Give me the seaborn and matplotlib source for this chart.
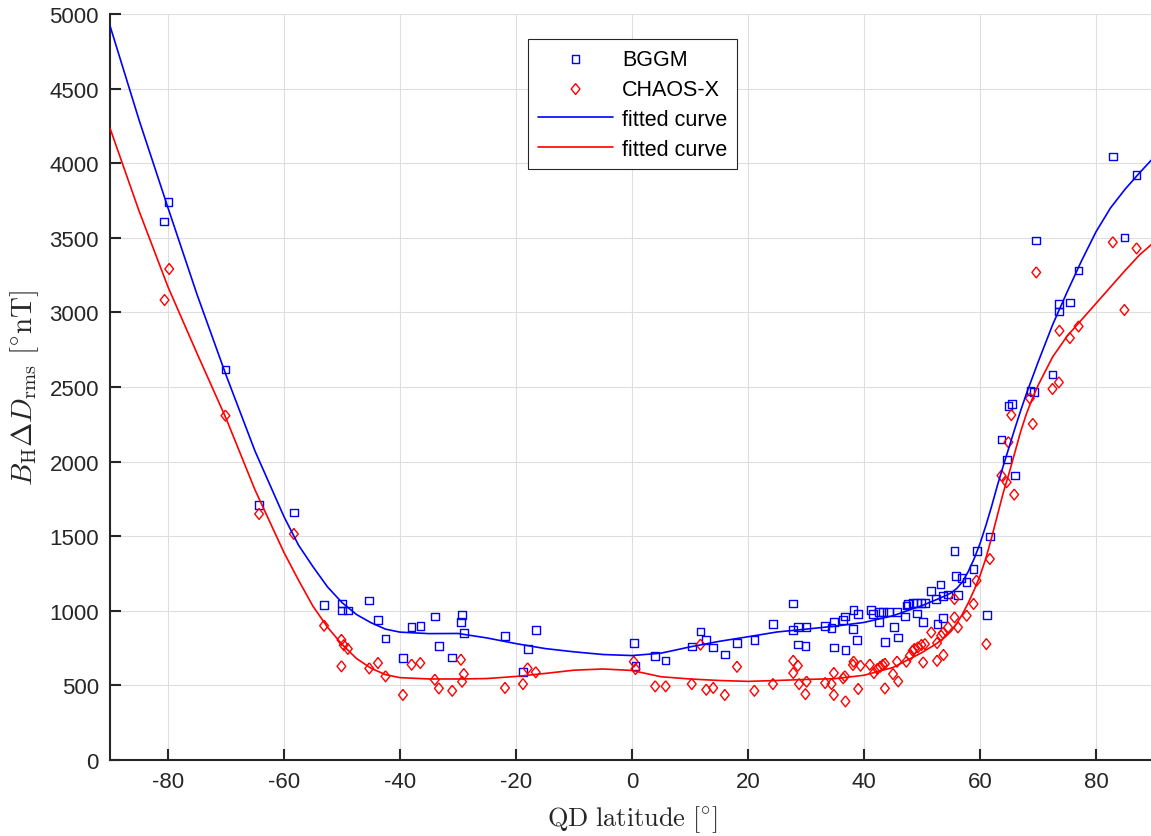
import matplotlib
matplotlib.use("Agg")
import matplotlib.pyplot as plt
import pandas as pd
import seaborn as sns

# Scattered station values, BGGM model
bggm_lat = [-80.7, -79.9, -70.1, -64.3, -58.3, -53.1, -50.0, -50.0, -49.0, -45.3,
            -43.8, -42.5, -39.5, -38.0, -36.5, -34.0, -33.3, -31.0, -29.5, -29.3,
            -29.0, -21.9, -18.8, -17.9, -16.6, 0.3, 0.6, 4.0, 5.8, 10.3,
            11.8, 12.8, 14.0, 16.0, 18.1, 21.1, 24.3, 27.8, 27.8, 28.6,
            28.6, 29.9, 30.1, 33.3, 34.4, 34.8, 34.8, 36.4, 36.7, 36.8,
            38.1, 38.2, 38.8, 39.0, 41.2, 41.6, 42.6, 42.6, 43.3, 43.6,
            44.3, 45.2, 45.7, 45.9, 47.1, 47.3, 47.6, 48.4, 49.1, 49.1,
            49.8, 50.5, 50.2, 51.6, 52.4, 52.7, 53.2, 53.6, 53.6, 54.5,
            55.6, 55.9, 56.2, 56.8, 57.7, 58.9, 59.5, 61.2, 61.7, 63.7,
            64.7, 64.9, 65.5, 66.0, 68.7, 69.3, 69.7, 72.5, 73.6, 73.6,
            75.5, 77.0, 82.9, 84.9, 87.0]
bggm_val = [3610, 3738, 2616, 1709, 1660, 1039, 1050, 1001, 1001, 1068,
            940, 815, 682, 891, 900, 963, 764, 688, 923, 972,
            853, 833, 590, 744, 871, 786, 632, 697, 668, 762,
            862, 806, 755, 706, 784, 806, 912, 1050, 873, 893,
            775, 764, 893, 900, 885, 923, 755, 938, 963, 737,
            878, 1007, 804, 979, 1007, 979, 990, 923, 990, 789,
            990, 893, 990, 822, 961, 1035, 1046, 1052, 1052, 983,
            1052, 1052, 923, 1134, 1079, 911, 1175, 950, 1101, 1108,
            1399, 1235, 1106, 1218, 1195, 1280, 1399, 972, 1497, 2147,
            2013, 2374, 2384, 1906, 2475, 2468, 3483, 2585, 3056, 3005,
            3065, 3280, 4046, 3503, 3921]

# Scattered station values, CHAOS-X model
chaos_lat = [-80.6, -79.8, -70.1, -64.3, -58.3, -53.1, -50.1, -49.7, -50.1, -49.0,
             -45.3, -43.8, -42.5, -39.5, -38.0, -36.5, -34.0, -33.3, -31.0, -29.5,
             -29.0, -29.3, -21.9, -18.8, -18.0, -16.6, 0.3, 0.6, 4.0, 5.8,
             10.3, 11.8, 12.8, 14.0, 16.0, 18.1, 21.1, 24.3, 27.8, 27.8,
             28.6, 28.8, 29.9, 30.1, 33.3, 34.4, 34.8, 34.8, 36.4, 36.7,
             36.8, 38.1, 38.2, 39.0, 39.4, 41.0, 41.7, 42.3, 42.8, 43.2,
             43.6, 43.6, 45.0, 45.9, 45.7, 47.3, 47.9, 48.4, 48.7, 49.3,
             49.9, 50.5, 50.2, 52.6, 53.7, 51.6, 52.6, 53.3, 53.6, 54.5,
             55.6, 56.2, 55.6, 57.7, 58.9, 59.4, 61.1, 61.7, 63.7, 64.6,
             65.9, 64.9, 65.4, 68.6, 69.1, 69.7, 72.5, 73.6, 73.7, 75.5,
             77.0, 82.9, 84.9, 87.0]
chaos_val = [3083, 3291, 2308, 1649, 1515, 900, 805, 770, 628, 745,
             614, 650, 561, 436, 639, 650, 538, 480, 464, 672,
             576, 525, 483, 509, 614, 588, 659, 610, 494, 494,
             509, 773, 471, 483, 436, 625, 464, 509, 665, 583,
             632, 509, 442, 525, 516, 509, 583, 436, 548, 561,
             393, 637, 659, 476, 632, 639, 583, 610, 625, 637,
             645, 480, 576, 527, 659, 659, 699, 733, 744, 755,
             771, 777, 654, 665, 704, 855, 784, 833, 851, 889,
             956, 889, 1079, 967, 1046, 1202, 777, 1347, 1906, 1862,
             1779, 2130, 2312, 2424, 2252, 3268, 2487, 2531, 2877, 2828,
             2906, 3470, 3016, 3429]

# Fitted curves sampled along latitude
fit_lat = [-90, -85, -80, -75, -70, -65, -60,
           -57.5, -55, -52.5, -50, -47.5, -45, -42.5, -40,
           -35, -30, -25, -20, -15, -10, -5, 0, 5, 10, 15, 20, 25, 30, 35, 40, 45, 50,
           52.5, 54,
           55, 56, 57, 58, 59, 60, 61, 62, 63, 64, 65, 66, 67, 68, 69, 70,
           72.5, 75, 77.5, 80, 82.5, 85, 87.5, 90]
bggm_fit = [4920, 4290, 3700, 3120, 2580, 2070, 1630,
            1440, 1295, 1160, 1055, 975, 920, 877, 857,
            847, 848, 818, 780, 747, 725, 707, 700, 716, 758, 795, 826, 858, 877, 897, 922, 967, 1035,
            1075, 1100,
            1120, 1150, 1195, 1265, 1350, 1450, 1570, 1700, 1840, 1970, 2095, 2220, 2340, 2455, 2560, 2665,
            2915, 3135, 3345, 3540, 3700, 3825, 3935, 4040]
chaos_fit = [4234, 3680, 3170, 2725, 2290, 1810, 1390,
             1205, 1030, 890, 775, 680, 615, 572, 552,
             543, 543, 546, 560, 580, 602, 610, 600, 558, 543, 533, 527, 533, 540, 545, 568, 620, 720,
             780, 825,
             862, 915, 980, 1055, 1140, 1235, 1350, 1490, 1640, 1790, 1920, 2060, 2200, 2320, 2420, 2510,
             2700, 2840, 2950, 3060, 3170, 3280, 3385, 3470]

x_ticks = [-80, -60, -40, -20, 0, 20, 40, 60, 80]
y_ticks = [0, 500, 1000, 1500, 2000, 2500, 3000, 3500, 4000, 4500, 5000]

bggm = pd.DataFrame({"lat": bggm_lat, "val": bggm_val})
chaos = pd.DataFrame({"lat": chaos_lat, "val": chaos_val})
fits = pd.DataFrame({"lat": fit_lat, "bggm": bggm_fit, "chaos": chaos_fit})

sns.set_style("whitegrid")
plt.rcParams["font.family"] = ["Liberation Sans", "DejaVu Sans"]
plt.rcParams["mathtext.fontset"] = "cm"

axis_col = "#262626"
blue = "#0000ff"
red = "#ff0000"

fig = plt.figure(figsize=(11.51, 8.37), dpi=100)
ax = fig.add_axes([0.0956, 0.0908, 0.907, 0.8913])

diamond = [(0, 1), (0.8, 0), (0, -1), (-0.8, 0), (0, 1)]

sns.scatterplot(data=bggm, x="lat", y="val", marker="s", s=30,
                facecolor="none", edgecolor=blue, linewidth=1.0,
                label="BGGM", ax=ax, zorder=3)
sns.scatterplot(data=chaos, x="lat", y="val", marker=diamond, s=62,
                facecolor="none", edgecolor=red, linewidth=1.0,
                label="CHAOS-X", ax=ax, zorder=3)
sns.lineplot(data=fits, x="lat", y="bggm", color=blue, linewidth=1.2,
             sort=False, estimator=None, label="fitted curve", ax=ax, zorder=4)
sns.lineplot(data=fits, x="lat", y="chaos", color=red, linewidth=1.2,
             sort=False, estimator=None, label="fitted curve", ax=ax, zorder=4)

ax.set_xlim(-90, 90)
ax.set_ylim(0, 5000)
ax.set_xticks(x_ticks)
ax.set_yticks(y_ticks)
ax.set_xticklabels([str(t) for t in x_ticks])
ax.set_yticklabels([str(t) for t in y_ticks])

ax.grid(True, color="#dedede", linewidth=0.8)
ax.set_axisbelow(True)
for side in ("top", "right"):
    ax.spines[side].set_visible(False)
for side in ("left", "bottom"):
    ax.spines[side].set_color(axis_col)
    ax.spines[side].set_linewidth(1.5)
ax.tick_params(axis="both", direction="in", length=8, width=1.5,
               colors=axis_col, labelsize=16, pad=8,
               left=True, bottom=True, top=False, right=False)

ax.set_xlabel(r"$\mathrm{QD\ latitude}\ [^{\circ}]$", fontsize=19,
              color=axis_col, labelpad=8)
ax.set_ylabel(r"$B_{\mathrm{H}}\Delta D_{\mathrm{rms}}\ [^{\circ}\mathrm{nT}]$",
              fontsize=21, color=axis_col, labelpad=6)

handles, labels = ax.get_legend_handles_labels()
leg = ax.legend(handles, labels, loc="upper left",
                bbox_to_anchor=(0.4006, 0.9665), borderaxespad=0,
                fontsize=15.5, frameon=True, fancybox=False,
                edgecolor=axis_col, framealpha=1, handlelength=3.5,
                handletextpad=0.4, labelspacing=0.42, borderpad=0.45,
                scatterpoints=1)
leg.get_frame().set_linewidth(0.8)
for txt in leg.get_texts():
    txt.set_color("black")

fig.savefig("out.png", dpi=100)
